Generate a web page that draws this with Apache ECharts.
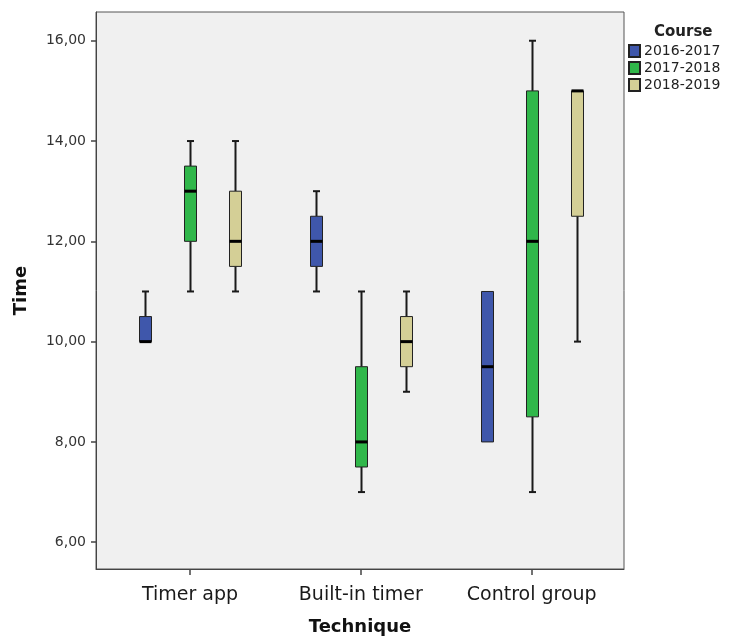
<!DOCTYPE html>
<html>
<head>
<meta charset="utf-8">
<script src="https://cdn.jsdelivr.net/npm/echarts@6/dist/echarts.min.js"></script>
<style>
html,body{margin:0;padding:0;background:#fff;}
#chart{width:731px;height:641px;}
</style>
</head>
<body>
<div id="chart"></div>
<script>
// ---- data ----
const categories = ['Timer app', 'Built-in timer', 'Control group'];
const courses = ['2016-2017', '2017-2018', '2018-2019'];
// each entry: [min, Q1, median, Q3, max] per category
const course2016 = [
  [10, 10, 10, 10.5, 11],
  [11, 11.5, 12, 12.5, 13],
  [8, 8, 9.5, 11, 11]
];
const course2017 = [
  [11, 12, 13, 13.5, 14],
  [7, 7.5, 8, 9.5, 11],
  [7, 8.5, 12, 15, 16]
];
const course2018 = [
  [11, 11.5, 12, 13, 14],
  [9, 9.5, 10, 10.5, 11],
  [10, 12.5, 15, 15, 15]
];
const yTicks = [6, 8, 10, 12, 14, 16];

// ---- styles ----
const colors = ['#3F57AB', '#30B74A', '#D4CF96'];
const groupOffset = 0.263; // offset of each course box within a category (axis units)
const FONT = 'DejaVu Sans';

const seriesData = [course2016, course2017, course2018];

function makeSeries(si) {
  const data = seriesData[si].map((v, ci) => [ci + 1 + (si - 1) * groupOffset].concat(v));
  return {
    type: 'custom',
    name: courses[si],
    itemStyle: { color: colors[si], borderColor: '#222', borderWidth: 1 },
    data: data,
    z: 3,
    renderItem: function (params, api) {
      const x = api.value(0);
      const pMin = api.coord([x, api.value(1)]);
      const pQ1 = api.coord([x, api.value(2)]);
      const pMed = api.coord([x, api.value(3)]);
      const pQ3 = api.coord([x, api.value(4)]);
      const pMax = api.coord([x, api.value(5)]);
      const cx = Math.round(pMed[0]) + 0.5;
      const bw = 12, cw = 7;
      const children = [];
      const wl = { stroke: '#1a1a1a', lineWidth: 2 };
      if (pMax[1] < pQ3[1] - 0.5) {
        children.push({ type: 'line', shape: { x1: cx, y1: pQ3[1], x2: cx, y2: pMax[1] }, style: wl });
        children.push({ type: 'line', shape: { x1: cx - cw / 2, y1: pMax[1], x2: cx + cw / 2, y2: pMax[1] }, style: wl });
      }
      if (pMin[1] > pQ1[1] + 0.5) {
        children.push({ type: 'line', shape: { x1: cx, y1: pQ1[1], x2: cx, y2: pMin[1] }, style: wl });
        children.push({ type: 'line', shape: { x1: cx - cw / 2, y1: pMin[1], x2: cx + cw / 2, y2: pMin[1] }, style: wl });
      }
      children.push({
        type: 'rect',
        shape: { x: cx - bw / 2, y: pQ3[1], width: bw, height: pQ1[1] - pQ3[1] },
        style: { fill: colors[si], stroke: '#222', lineWidth: 1 }
      });
      children.push({
        type: 'line',
        shape: { x1: cx - bw / 2, y1: pMed[1], x2: cx + bw / 2, y2: pMed[1] },
        style: { stroke: '#000', lineWidth: 3 }
      });
      return { type: 'group', children: children };
    }
  };
}

const chart = echarts.init(document.getElementById('chart'), null, { renderer: 'canvas' });
chart.setOption({
  animation: false,
  backgroundColor: '#fff',
  textStyle: { fontFamily: FONT },
  title: {
    text: 'Course',
    left: 649, top: 20,
    textStyle: { fontFamily: FONT, fontSize: 15, fontWeight: 'bold', color: '#222' }
  },
  legend: {
    orient: 'vertical',
    left: 623, top: 39,
    icon: 'rect',
    itemWidth: 11, itemHeight: 12, itemGap: 3,
    textStyle: { fontFamily: FONT, fontSize: 14, color: '#222', padding: [0, 0, 0, -1] },
    data: courses
  },
  grid: {
    left: 96, right: 107, top: 12, bottom: 67,
    show: true, backgroundColor: '#F0F0F0', borderColor: '#555', borderWidth: 1
  },
  xAxis: {
    type: 'value',
    min: 0.45, max: 3.54,
    name: 'Technique',
    nameLocation: 'middle',
    nameGap: 49,
    nameTextStyle: { fontFamily: FONT, fontSize: 18, fontWeight: 'bold', color: '#111' },
    axisLine: { show: true, lineStyle: { color: '#444', width: 1 } },
    axisTick: { show: true, customValues: [1, 2, 3], length: 6, lineStyle: { color: '#444', width: 1.5 } },
    axisLabel: {
      customValues: [1, 2, 3],
      formatter: v => categories[Math.round(v) - 1],
      fontFamily: FONT, fontSize: 19, color: '#1a1a1a', margin: 17
    },
    splitLine: { show: false }
  },
  yAxis: {
    type: 'value',
    min: 5.466, max: 16.573,
    name: 'Time',
    nameLocation: 'middle',
    nameRotate: 90,
    nameGap: 66,
    nameTextStyle: { fontFamily: FONT, fontSize: 18, fontWeight: 'bold', color: '#111' },
    axisLine: { show: true, lineStyle: { color: '#444', width: 1 } },
    axisTick: { show: true, customValues: yTicks, length: 5, lineStyle: { color: '#444', width: 1.5 } },
    axisLabel: {
      customValues: yTicks,
      formatter: v => v.toFixed(2).replace('.', ','),
      fontFamily: FONT, fontSize: 14, color: '#333', margin: 10
    },
    splitLine: { show: false }
  },
  series: [makeSeries(0), makeSeries(1), makeSeries(2)]
});
</script>
</body>
</html>
